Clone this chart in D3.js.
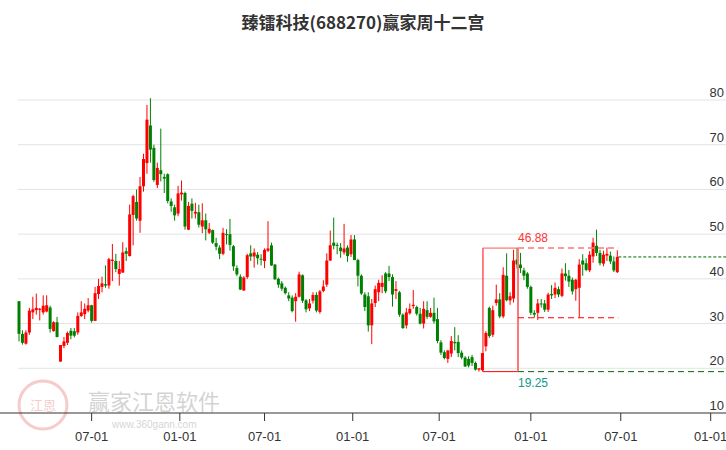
<!DOCTYPE html>
<html>
<head>
  <meta charset="utf-8">
  <script src="https://d3js.org/d3.v7.min.js"></script>
  <style>
    body { margin: 0; background: #fff; }
    text { font-family: "Liberation Sans", Arial, sans-serif; }
  </style>
</head>
<body>
<script>
  // weekly candles
  const opens  = [35,27.7,25.5,28,32.5,33,33.3,32.5,32.7,33.6,28.3,30.3,21.5,25,25.7,28.4,28.3,28,31.7,32.1,32.9,34.1,30.6,36.6,38.2,38.8,38.5,44,44,41.1,41.4,46.2,45.1,54.3,57.2,53,60.7,65.9,74.3,69.3,61,64.3,62.8,63.4,57.3,56,54.6,58.9,59.2,51,56.8,54.6,54.9,51.7,53.1,50.3,50.9,48,47,45.6,50,50,47.3,42.4,40.5,37.4,40.4,45.7,45,45.4,44.5,44,46.3,47.5,43.2,40,39,38,36.3,35.8,35,36,40.8,35.2,33.4,35.1,36.4,32.6,37.3,38.7,44.1,48.1,47.6,47,45.9,47,45.5,48.8,44.2,40.7,36.5,36.1,29.6,34.6,37,38.2,41.2,41.2,40.4,37.3,37,32,29.6,32.3,33.9,33.7,32.2,30,33,31.5,32.4,31,25.8,23.6,22.1,23.3,25.9,25.9,23.5,22.4,22.1,22.5,21.2,19.7,19.6,24.9,33.5,27.5,34.6,35.4,31.6,40.7,35.2,35.6,44.3,43.2,41.9,41.2,38.2,32.4,32.4,34.5,34.5,33.1,36.6,36.5,37.7,36.2,41.2,40.7,39.8,37.7,38,44.1,43.5,41.9,45,47.4,45.8,43.4,45.2,45.2,43.9,41.5];
  const closes = [27.7,25.7,28,32.9,33.2,33.5,33.3,34,34.1,28.8,30.3,27,25.2,26,27.9,27.3,27.3,31.7,32.5,33.3,34.1,30.6,36.8,38.4,39,38.5,44.4,44.3,42.2,42.2,45.9,45.6,54.4,58.5,53.5,60.7,66.8,75.6,68.9,62.1,64.8,63.4,62.4,57.4,56.3,54.2,59.1,59.3,51.7,56.3,55.2,55,52.1,53.1,51.1,51.2,48.1,47.2,45.6,50.3,49.8,47.6,42.8,41,37.6,40.3,45.3,45,45.9,44.6,44.3,46.5,46.8,43,39.9,38.7,37.8,36.8,35.6,32.8,36,41,35.1,33.2,34.5,36.4,32.9,37.2,38.3,44.1,47.5,47.4,47.4,46.2,46.8,45.1,48.8,44.2,40.7,36.7,33.7,29.6,34.5,37.7,39.1,39.1,37.2,40.4,36.5,37.7,32,29,32.5,33.3,34.2,32.2,30,33.3,31.5,32.4,30.5,26.1,23.5,22.3,24,26.1,25.6,23.4,22.4,20.4,20.6,21.2,19.7,20,23.4,27.9,27.2,33,35.4,31.6,40.9,35.2,36.1,44.1,43.2,42.4,40.7,38.2,32.4,32,34.5,34.4,33.1,36.5,36.3,38,36.5,41.2,40.6,39.4,37.2,39.8,43.2,43.2,42,45.4,48.1,45.8,43.5,45.4,45.6,43.9,41.9,44.9];
  const highs  = [35,28.5,28.5,33.5,36,36.7,33.5,36.3,36.3,34,30.5,31.5,25.2,27,28.2,29,29,32.5,35,34.5,35.7,34.2,38.2,40,40.5,43,44.7,47.8,45.6,44,48.2,47,56.6,58.8,60,62.8,68,78.9,80.4,70,66,73.6,63.5,63.6,58,56.6,60.8,62,59.5,57.2,58,57,56.6,56.9,54.6,52.5,51,49.2,47.5,51.4,51.1,53.4,47.6,43,41,40.6,45.6,47.5,46.8,46,45.5,46.8,52.9,48.1,43.3,40.3,39.5,38.3,37,36.3,36.8,41.6,41,35.5,35.5,37,37,37.5,39.7,45.7,50.8,53.7,48.1,48,52.3,47.5,49.8,49.8,44.5,41,37,37,35.5,38.5,39.8,40.8,41.5,42.9,41,39.5,37.3,32.3,33.5,34.5,37.5,34,33.5,35,35,33.5,35.8,33.5,26.3,24,24,27.2,29.2,27.4,24,22.7,22.7,23,21.5,20,23.4,28.3,33.8,34,38.7,36.8,42.6,45.7,37,46.5,46.88,45.8,42.5,41.5,38.5,33,35.5,35.5,35.3,36.9,38.6,39.2,38.3,42.3,43.5,42,40.3,40,44.4,45.5,44.6,46.2,49.2,51,46.5,46.3,47,46.1,45,46.4];
  const lows   = [26,25.3,25.3,27.5,31,32,30.7,32,32.5,28,28.2,26.9,21.5,24.5,25.2,26.5,26.9,27.5,31.5,31,32.5,30.2,30.6,35.5,37,38,37.8,39.5,41.5,38.5,41.4,44,45,47.5,53,50.3,59.5,63.5,66,61.7,60.3,61.8,59.2,56.9,55,53,54,57.5,51,50.9,53.5,53.5,51.5,50.2,48.6,50,47.8,46.4,44.4,45.3,47.7,46.3,41.8,40.6,37.5,37.3,40,44,42.5,43.2,43,42.4,46,42.9,39.8,38,37.3,36.5,35,32.5,30.4,35.8,34.6,32.5,32.8,34.5,32.5,32.2,37,38.2,44,46.6,45.5,44.7,45.4,43.8,44.9,44.2,38.3,36.4,32.8,28.2,25.4,33.7,35,36.8,36.8,39.5,33.8,35.5,31.5,28.8,28.9,32,33.3,31.8,29.8,28.9,31,31.3,30,25.6,23,22,21.2,22.5,24,22.5,22,20.3,20.2,20.5,19.5,19.25,19.3,23.8,26.8,27,34,31.2,31.2,35,34.2,34.7,42.3,41.3,39.7,37.8,31.9,31.3,30.8,33.6,32.6,32.6,35.5,35.7,35.9,35.9,39.6,38.2,36.5,35.1,31.3,40.7,41.7,41.5,43.6,45.1,43,42.8,44,43.3,41.5,41.3];
  const xTickPos    = [21, 46.5, 71, 96.5, 121.5, 148, 174, 200];
  const xTickLabels = ["07-01","01-01","07-01","01-01","07-01","01-01","07-01","01-01"];
  const yTicks = [10, 20, 30, 40, 50, 60, 70, 80];
  const boxLow = 19.25, boxHigh = 46.88, midLine = 31.3;
  const lowIdx = 133, highIdx = 144;

  const width = 726, height = 450;
  const n = closes.length;

  let x = d3.scaleLinear().domain([0, n - 1]).range([19, 617.3]);
  let y = d3.scaleLinear().domain([10, 80]).range([413, 100]);

  let svg = d3.select("body").append("svg")
    .attr("width", width).attr("height", height);

  // title
  svg.append("text")
    .attr("x", 363).attr("y", 29)
    .attr("text-anchor", "middle")
    .style("font-family", "'Noto Sans CJK SC', sans-serif")
    .style("font-size", "17px").style("font-weight", "bold")
    .attr("fill", "#333")
    .text("臻镭科技(688270)赢家周十二宫");

  // gridlines + y labels
  svg.selectAll(".grid").data(yTicks.slice(1)).enter().append("line")
    .attr("x1", 18).attr("x2", width)
    .attr("y1", d => y(d)).attr("y2", d => y(d))
    .attr("stroke", "#e3e3e3").attr("stroke-width", 1);
  svg.selectAll(".ylab").data(yTicks).enter().append("text")
    .attr("x", 724).attr("y", d => y(d) - 3)
    .attr("text-anchor", "end")
    .style("font-size", "13px").attr("fill", "#333")
    .text(d => d);

  // watermark
  let wm = svg.append("g").attr("opacity", 0.25);
  wm.append("circle").attr("cx", 43).attr("cy", 405).attr("r", 24)
    .attr("fill", "none").attr("stroke", "#d33").attr("stroke-width", 3);
  wm.append("text").attr("x", 43).attr("y", 410).attr("text-anchor", "middle")
    .style("font-family", "'Noto Sans CJK SC', sans-serif")
    .style("font-size", "13px").attr("fill", "#d33").text("江恩");
  wm.append("text").attr("x", 88).attr("y", 410)
    .style("font-family", "'Noto Sans CJK SC', sans-serif")
    .style("font-size", "22px").attr("fill", "#555").text("赢家江恩软件");
  wm.append("text").attr("x", 112).attr("y", 428)
    .style("font-size", "10px").attr("fill", "#555").text("www.360gann.com");

  // x axis
  svg.append("line").attr("x1", 0).attr("x2", width)
    .attr("y1", 413).attr("y2", 413).attr("stroke", "#333");
  svg.selectAll(".xt").data(xTickPos).enter().append("line")
    .attr("x1", d => x(d)).attr("x2", d => x(d))
    .attr("y1", 413).attr("y2", 421).attr("stroke", "#333");
  svg.selectAll(".xl").data(xTickPos).enter().append("text")
    .attr("x", d => x(d)).attr("y", 441)
    .attr("text-anchor", "middle")
    .style("font-size", "13px").attr("fill", "#333")
    .text((d, i) => xTickLabels[i]);

  // candles
  let candles = svg.selectAll(".c").data(closes).enter().append("g");
  let col = i => closes[i] >= opens[i] ? "#ff0000" : "#008000";
  candles.append("line")
    .attr("x1", (d, i) => x(i)).attr("x2", (d, i) => x(i))
    .attr("y1", (d, i) => y(highs[i])).attr("y2", (d, i) => y(lows[i]))
    .attr("stroke", (d, i) => col(i)).attr("stroke-width", 1);
  candles.append("rect")
    .attr("x", (d, i) => x(i) - 1.5).attr("width", 3)
    .attr("y", (d, i) => y(Math.max(opens[i], closes[i])))
    .attr("height", (d, i) => Math.max(1, Math.abs(y(opens[i]) - y(closes[i]))))
    .attr("fill", (d, i) => col(i));

  // twelve-palace box
  let bx0 = x(lowIdx) + 4, bx1 = x(highIdx) + 1, xEnd = x(n - 1) + 1;
  svg.append("line").attr("x1", bx0).attr("x2", bx0).attr("y1", y(boxHigh)).attr("y2", y(boxLow))
    .attr("stroke", "#f00").attr("stroke-width", 1);
  svg.append("line").attr("x1", bx0).attr("x2", bx1).attr("y1", y(boxLow)).attr("y2", y(boxLow))
    .attr("stroke", "#f00").attr("stroke-width", 1);
  svg.append("line").attr("x1", bx0).attr("x2", bx1).attr("y1", y(boxHigh)).attr("y2", y(boxHigh))
    .attr("stroke", "#f55").attr("stroke-width", 1);
  svg.append("line").attr("x1", bx1).attr("x2", bx1).attr("y1", y(boxHigh)).attr("y2", y(boxLow))
    .attr("stroke", "#f77").attr("stroke-width", 2);
  svg.append("line").attr("x1", bx1).attr("x2", xEnd).attr("y1", y(boxHigh)).attr("y2", y(boxHigh))
    .attr("stroke", "#f77").attr("stroke-width", 1.5).attr("stroke-dasharray", "6,4");
  svg.append("line").attr("x1", bx1).attr("x2", xEnd).attr("y1", y(midLine)).attr("y2", y(midLine))
    .attr("stroke", "#f00").attr("stroke-width", 1).attr("stroke-dasharray", "6,4");
  svg.append("line").attr("x1", bx1).attr("x2", width).attr("y1", y(boxLow)).attr("y2", y(boxLow))
    .attr("stroke", "#060").attr("stroke-width", 1).attr("stroke-dasharray", "6,4");
  svg.append("line").attr("x1", xEnd).attr("x2", width).attr("y1", y(closes[n - 1])).attr("y2", y(closes[n - 1]))
    .attr("stroke", "#060").attr("stroke-width", 1).attr("stroke-dasharray", "3,2");
  svg.append("text").attr("x", bx1 + 15).attr("y", y(boxHigh) - 6)
    .attr("text-anchor", "middle").style("font-size", "12px").attr("fill", "#f33")
    .text(boxHigh.toFixed(2));
  svg.append("text").attr("x", bx1 + 15).attr("y", y(boxLow) + 15)
    .attr("text-anchor", "middle").style("font-size", "12px").attr("fill", "#198")
    .text(boxLow.toFixed(2));
</script>
</body>
</html>
